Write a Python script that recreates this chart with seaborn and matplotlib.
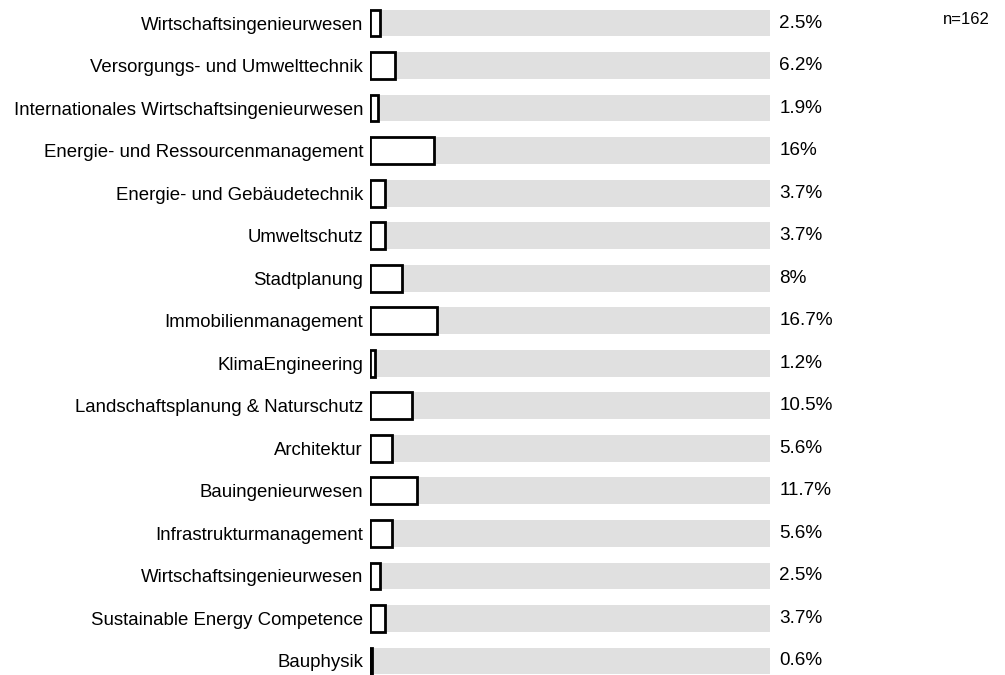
import pandas as pd
import numpy as np
import matplotlib.pyplot as plt
import seaborn as sns

# Studiengaenge, top to bottom as in the chart
programs = [
    "Wirtschaftsingenieurwesen",
    "Versorgungs- und Umwelttechnik",
    "Internationales Wirtschaftsingenieurwesen",
    "Energie- und Ressourcenmanagement",
    "Energie- und Gebäudetechnik",
    "Umweltschutz",
    "Stadtplanung",
    "Immobilienmanagement",
    "KlimaEngineering",
    "Landschaftsplanung & Naturschutz",
    "Architektur",
    "Bauingenieurwesen",
    "Infrastrukturmanagement",
    "Wirtschaftsingenieurwesen",
    "Sustainable Energy Competence",
    "Bauphysik",
]
shares = [2.5, 6.2, 1.9, 16, 3.7, 3.7, 8, 16.7, 1.2, 10.5, 5.6, 11.7, 5.6, 2.5, 3.7, 0.6]
n_total = 162

# two programs share a name, so use position as the category key
df = pd.DataFrame({
    "pos": [str(i) for i in range(len(programs))],
    "program": programs,
    "share": shares,
    "full": [100] * len(programs),
})

sns.set_style("white")
plt.rcParams["font.family"] = ["Liberation Sans", "DejaVu Sans"]

fig = plt.figure(figsize=(10.05, 6.75), dpi=100)
ax = fig.add_axes([370 / 1005, 0, 400 / 1005, 1])

# gray track = 100%
sns.barplot(data=df, x="full", y="pos", color="#e0e0e0", width=0.63,
            linewidth=0, saturation=1, ax=ax)
# actual share
sns.barplot(data=df, x="share", y="pos", color="white", width=0.63,
            edgecolor="black", linewidth=2, saturation=1, ax=ax)

ax.set_xlim(0, 100)
ax.set_ylim(15.33, -0.541)
ax.set_xlabel("")
ax.set_ylabel("")
ax.set_xticks([])
ax.set_yticks(range(len(programs)))
ax.set_yticklabels(programs, fontsize=13.4, color="black")
ax.tick_params(axis="y", length=0, pad=5)
sns.despine(ax=ax, left=True, bottom=True)

for i, v in enumerate(shares):
    txt = f"{v:g}%"
    ax.text(102.3, i, txt, va="center", ha="left", fontsize=13.6, color="black")

fig.text(990 / 1005, 1 - 20 / 675, f"n={n_total}", ha="right", va="center",
         fontsize=12, color="black")

fig.savefig("out.png", dpi=100)
